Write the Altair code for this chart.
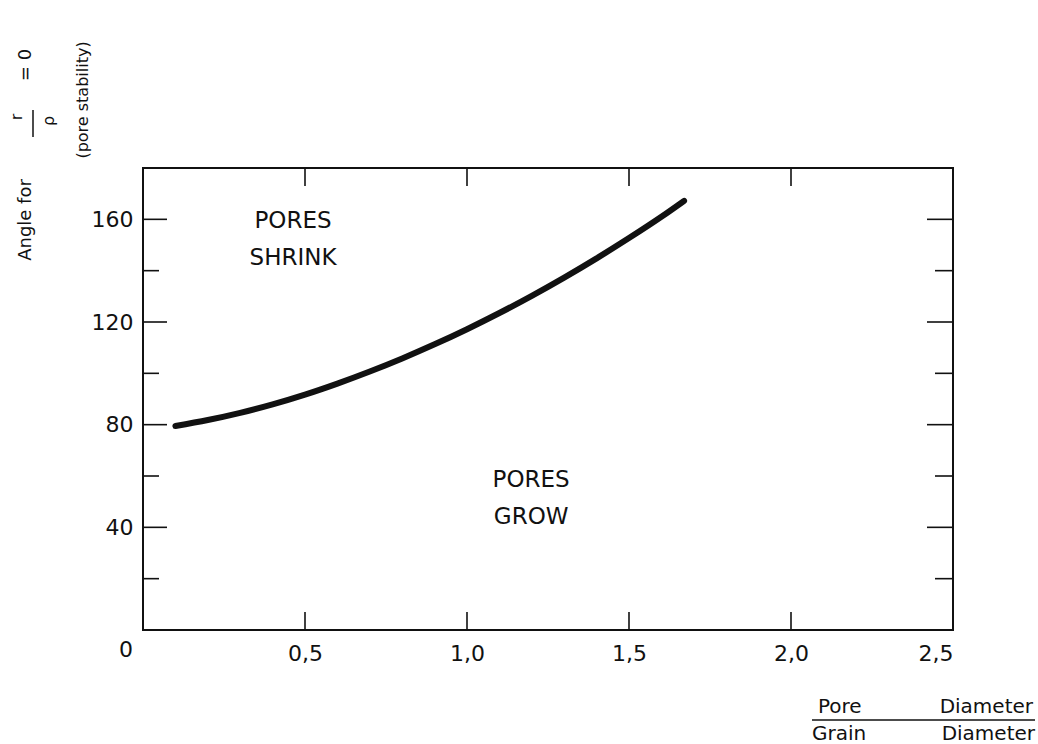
import altair as alt
import pandas as pd

# ---- data ----
ratio = [0.10, 0.20, 0.30, 0.40, 0.50, 0.60, 0.70, 0.80, 0.90, 1.00,
         1.10, 1.20, 1.30, 1.40, 1.50, 1.60, 1.67]
angle = [79.5, 81.8, 84.6, 87.9, 91.7, 96.0, 100.7, 105.8, 111.3, 117.2,
         123.5, 130.2, 137.3, 144.8, 152.7, 161.0, 167.2]

y_major = [40, 80, 120, 160]
y_minor = [20, 60, 100, 140]
x_ticks = [0.5, 1.0, 1.5, 2.0]
x_labels = [0.5, 1.0, 1.5, 2.0, 2.5]

region_text = ["PORES", "SHRINK", "PORES", "GROW"]
region_x = [0.463, 0.463, 1.198, 1.198]
region_y = [159.3, 144.9, 58.4, 44.0]

W, H = 810, 462
FONT = "DejaVu Sans"
INK = "#111111"

xscale = alt.Scale(domain=[0, 2.5], nice=False, zero=False)
yscale = alt.Scale(domain=[0, 180], nice=False, zero=False)

x_axis = alt.Axis(
    values=x_labels, title=None, grid=False, domain=False, ticks=False,
    tickSize=0, labelPadding=13, labelFontSize=22, labelFont=FONT,
    labelColor=INK, labelExpr="replace(format(datum.value, '.1f'), '.', ',')")
y_axis = alt.Axis(
    values=y_major, title=None, grid=False, domain=False, ticks=False,
    tickSize=0, labelPadding=10, labelFontSize=22, labelFont=FONT,
    labelColor=INK)

curve_df = pd.DataFrame({"ratio": ratio, "angle": angle})

curve = alt.Chart(curve_df).mark_line(
    color=INK, strokeWidth=6, strokeCap="round", interpolate="monotone"
).encode(
    x=alt.X("ratio:Q", scale=xscale, axis=x_axis),
    y=alt.Y("angle:Q", scale=yscale, axis=y_axis),
)

ymaj_df = pd.DataFrame({"v": y_major})
ymin_df = pd.DataFrame({"v": y_minor})
xt_df = pd.DataFrame({"v": x_ticks})

def yrule(df, x0, x1):
    return alt.Chart(df).mark_rule(color=INK, strokeWidth=1.6).encode(
        y=alt.Y("v:Q", scale=yscale, axis=y_axis),
        x=alt.value(x0), x2=alt.value(x1))

def xrule(df, y0, y1):
    return alt.Chart(df).mark_rule(color=INK, strokeWidth=1.6).encode(
        x=alt.X("v:Q", scale=xscale, axis=x_axis),
        y=alt.value(y0), y2=alt.value(y1))

ticks = [
    yrule(ymaj_df, 0, 24), yrule(ymin_df, 0, 16),
    yrule(ymaj_df, W - 26, W), yrule(ymin_df, W - 18, W),
    xrule(xt_df, 0, 18), xrule(xt_df, H - 18, H),
]

reg_df = pd.DataFrame({"t": region_text, "x": region_x, "y": region_y})
regions = alt.Chart(reg_df).mark_text(
    font=FONT, fontSize=23, color=INK, align="center", baseline="middle"
).encode(
    x=alt.X("x:Q", scale=xscale, axis=x_axis),
    y=alt.Y("y:Q", scale=yscale, axis=y_axis),
    text="t:N",
)

one = alt.Data(values=[{}])

def label(txt, x, y, size, angle=0, align="center"):
    kw = dict(font=FONT, fontSize=size, color=INK, align=align, baseline="middle")
    if angle:
        kw["angle"] = angle
    return alt.Chart(one).mark_text(**kw).encode(
        x=alt.value(x), y=alt.value(y), text=alt.value(txt))

def line(x0, y0, x1, y1):
    return alt.Chart(one).mark_rule(color=INK, strokeWidth=1.5).encode(
        x=alt.value(x0), y=alt.value(y0), x2=alt.value(x1), y2=alt.value(y1))

annotations = [
    # origin label
    label("0", -17, 482, 22),
    # y title (rotated)
    label("Angle for", -117, 52, 18, angle=270),
    label("r", -126, -51, 16, angle=270),
    line(-110, -58, -110, -31),
    label("ρ", -94, -47, 16, angle=270),
    label("= 0", -117, -103, 18, angle=270),
    label("(pore stability)", -60, -68, 16, angle=270),
    # x title (fraction)
    label("Pore", 675, 539, 20, align="left"),
    label("Diameter", 890, 539, 20, align="right"),
    line(669, 552, 892, 552),
    label("Grain", 669, 566, 20, align="left"),
    label("Diameter", 892, 566, 20, align="right"),
]

chart = alt.layer(curve, *ticks, regions, *annotations).properties(
    width=W, height=H,
    background="white",
    padding={"left": 143, "top": 168, "right": 85, "bottom": 114},
    autosize=alt.AutoSizeParams(type="none"),
).configure_view(
    stroke=INK, strokeWidth=2
)

chart.save("out.html", embed_options={"renderer": "svg", "actions": False})
